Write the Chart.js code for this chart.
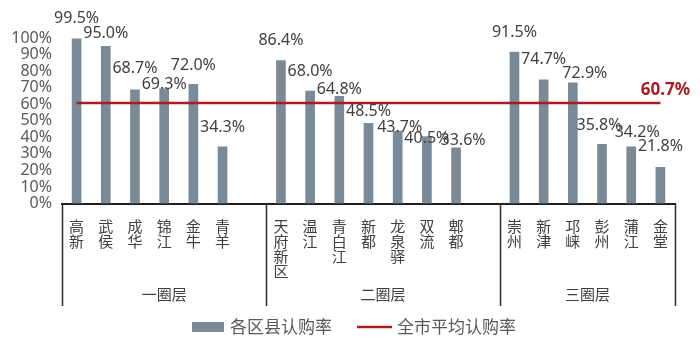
<!DOCTYPE html>
<html>
<head>
<meta charset="utf-8">
<script src="https://cdn.jsdelivr.net/npm/chart.js@4/dist/chart.umd.min.js"></script>
<style>
  html, body { margin: 0; padding: 0; background: #fff; }
  #box { width: 700px; height: 348px; }
</style>
</head>
<body>
<div id="box"><canvas id="rateChart" width="700" height="348"></canvas></div>
<script>
// districts, with an empty slot closing each ring
const districts = ['高新', '武侯', '成华', '锦江', '金牛', '青羊', '',
    '天府新区', '温江', '青白江', '新都', '龙泉驿', '双流', '郫都', '',
    '崇州', '新津', '邛崃', '彭州', '蒲江', '金堂'];
const rates = [99.5, 95.0, 68.7, 69.3, 72.0, 34.3, null,
    86.4, 68.0, 64.8, 48.5, 43.7, 40.5, 33.6, null,
    91.5, 74.7, 72.9, 35.8, 34.2, 21.8];
const cityAvg = 60.7;
const rings = ['一圈层', '二圈层', '三圈层'];
const ringStart = [0, 7, 15];
const yTicks = [0, 10, 20, 30, 40, 50, 60, 70, 80, 90, 100];

// value label nudges (px): lift above bar top, sideways shift
const labelLift = [20, 13, 21, 4, 19, 19, 0, 20, 20, 7, 12, 4, -2, 7, 0, 20, 20, 9, 19, 14, 21];
const labelShift = [0, 0, 0, 0, 0, 0, 0, 0, 0, 0, 0, 2, 0, 7, 0, 0, 0, 12, -3, 6, 0];

const BAR = '#7a8b97';
const RED = '#a81c22';
const TXT = '#404040';
const FONT = '"Noto Sans", "Noto Sans CJK SC", sans-serif';
const CJK = '"Noto Sans CJK SC", sans-serif';

const extras = {
    id: 'extras',
    afterDatasetsDraw(chart) {
        const ctx = chart.ctx;
        const area = chart.chartArea;
        const x = chart.scales.x;

        // value labels over bars
        const bars = chart.getDatasetMeta(0).data;
        ctx.save();
        ctx.font = '16px ' + FONT;
        ctx.fillStyle = TXT;
        ctx.textAlign = 'center';
        ctx.textBaseline = 'middle';
        rates.forEach((v, i) => {
            if (v === null) return;
            const b = bars[i];
            ctx.fillText(v.toFixed(1) + '%', b.x + labelShift[i], b.y - labelLift[i]);
        });

        // average value tag at the end of the line
        const pts = chart.getDatasetMeta(1).data;
        const last = pts[pts.length - 1];
        ctx.font = 'bold 17px ' + FONT;
        ctx.fillStyle = RED;
        ctx.fillText(cityAvg.toFixed(1) + '%', last.x + 5, last.y - 13);

        // ring brackets below the axis
        const slot = x.width / districts.length;
        const edges = ringStart.map(i => x.getPixelForValue(i) - slot / 2);
        edges.push(area.right);
        ctx.strokeStyle = '#2b2b2b';
        ctx.lineWidth = 1.5;
        edges.forEach(ex => {
            ctx.beginPath();
            ctx.moveTo(Math.round(ex) + 0.5, area.bottom);
            ctx.lineTo(Math.round(ex) + 0.5, 306);
            ctx.stroke();
        });
        ctx.font = '15px ' + CJK;
        ctx.fillStyle = TXT;
        rings.forEach((r, k) => {
            ctx.fillText(r, (edges[k] + edges[k + 1]) / 2, 294);
        });

        // legend
        ctx.font = '17px ' + CJK;
        ctx.textAlign = 'left';
        let lx = 192;
        const ly = 327;
        ctx.fillStyle = BAR;
        ctx.fillRect(lx, ly - 5, 32, 10);
        lx += 38;
        ctx.fillStyle = '#595959';
        ctx.fillText(chart.data.datasets[0].label, lx, ly);
        lx += ctx.measureText(chart.data.datasets[0].label).width + 25;
        ctx.strokeStyle = RED;
        ctx.lineWidth = 2.5;
        ctx.beginPath();
        ctx.moveTo(lx, ly);
        ctx.lineTo(lx + 35, ly);
        ctx.stroke();
        lx += 40;
        ctx.fillText(chart.data.datasets[1].label, lx, ly);
        ctx.restore();
    }
};

new Chart(document.getElementById('rateChart'), {
    data: {
        labels: districts,
        datasets: [
            {
                type: 'bar',
                label: '各区县认购率',
                data: rates,
                backgroundColor: BAR,
                barThickness: 9,
                order: 2
            },
            {
                type: 'line',
                label: '全市平均认购率',
                data: districts.map(() => cityAvg),
                borderColor: RED,
                borderWidth: 2.5,
                pointRadius: 0,
                order: 1
            }
        ]
    },
    options: {
        responsive: false,
        animation: false,
        layout: { padding: { top: 38, right: 25, left: 0, bottom: 0 } },
        plugins: {
            legend: { display: false },
            tooltip: { enabled: false }
        },
        scales: {
            x: {
                grid: { display: false },
                border: { display: true, color: '#1e1e1e', width: 2 },
                afterFit: s => { s.height = 144.5; },
                ticks: {
                    autoSkip: false,
                    maxRotation: 0,
                    padding: 7,
                    color: TXT,
                    font: { family: CJK, size: 15, lineHeight: 1.0 },
                    callback: (v, i) => districts[i].split('')
                }
            },
            y: {
                min: 0,
                max: 100,
                afterFit: s => { s.width = 62; },
                afterBuildTicks: s => { s.ticks = yTicks.map(v => ({ value: v })); },
                grid: { display: false },
                border: { display: false },
                ticks: {
                    autoSkip: false,
                    padding: 2,
                    color: '#595959',
                    font: { family: FONT, size: 16 },
                    callback: v => v + '%'
                }
            }
        }
    },
    plugins: [extras]
});
</script>
</body>
</html>
